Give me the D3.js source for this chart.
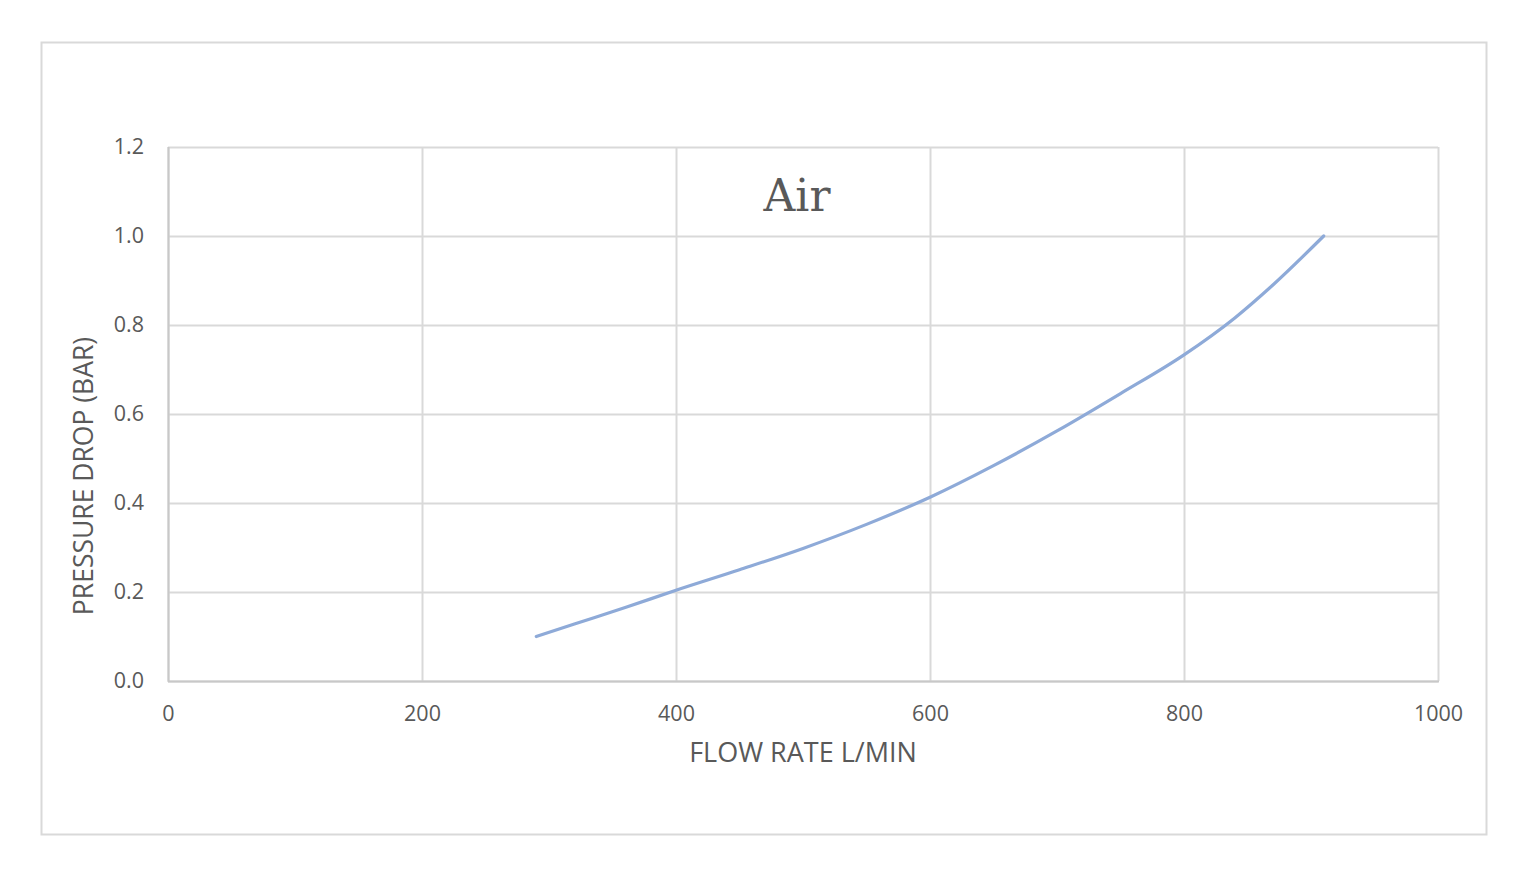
<!DOCTYPE html>
<html><head><meta charset="utf-8">
<script src="https://cdn.jsdelivr.net/npm/d3@7"></script>
<style>body{margin:0;background:#fff;overflow:hidden}</style>
</head><body>
<svg id="c" width="1533" height="874"></svg>
<script>
const flowRate = [290, 320, 360, 400, 450, 500, 550, 600, 650, 700, 750, 800, 840, 870, 910];
const pressureDrop = [0.10, 0.128, 0.165, 0.204, 0.25, 0.298, 0.352, 0.413, 0.484, 0.562, 0.646, 0.733, 0.816, 0.89, 1.0];
const xTicks = [0, 200, 400, 600, 800, 1000];
const yTicks = [0.0, 0.2, 0.4, 0.6, 0.8, 1.0, 1.2];
const title = "Air";
const xTitle = "FLOW RATE L/MIN";
const yTitle = "PRESSURE DROP (BAR)";

const svg = d3.select("#c");
const L = 168, R = 1438, T = 147, B = 681;
const x = d3.scaleLinear().domain([0, 1000]).range([L, R]);
const y = d3.scaleLinear().domain([0, 1.2]).range([B, T]);
const grey = "#d9d9d9", txt = "#595959";
const font = "'Open Sans', 'Noto Sans', sans-serif";

svg.append("rect").attr("x", 41.5).attr("y", 42.5).attr("width", 1445).attr("height", 792)
  .attr("fill", "#fff").attr("stroke", grey).attr("stroke-width", 2);

// gridlines
svg.append("g").selectAll("line").data(yTicks).join("line")
  .attr("x1", L).attr("x2", R).attr("y1", d => Math.round(y(d)) + 0.5).attr("y2", d => Math.round(y(d)) + 0.5)
  .attr("stroke", grey).attr("stroke-width", 2);
svg.append("g").selectAll("line").data(xTicks).join("line")
  .attr("y1", T).attr("y2", B).attr("x1", d => Math.round(x(d)) + 0.5).attr("x2", d => Math.round(x(d)) + 0.5)
  .attr("stroke", grey).attr("stroke-width", 2);
// axes lines
svg.append("line").attr("x1", L + 0.5).attr("x2", L + 0.5).attr("y1", T).attr("y2", B + 1)
  .attr("stroke", "#c8c8c8").attr("stroke-width", 2);
svg.append("line").attr("x1", L).attr("x2", R + 1).attr("y1", B + 0.5).attr("y2", B + 0.5)
  .attr("stroke", "#c8c8c8").attr("stroke-width", 2);

// tick labels via axes
const xa = svg.append("g").attr("transform", `translate(0,${B})`)
  .call(d3.axisBottom(x).tickValues(xTicks).tickSize(0).tickPadding(25).tickFormat(d3.format("d")));
const ya = svg.append("g").attr("transform", `translate(${L},0)`)
  .call(d3.axisLeft(y).tickValues(yTicks).tickSize(0).tickPadding(24).tickFormat(d3.format(".1f")));
[xa, ya].forEach(a => {
  a.select(".domain").remove();
  a.selectAll("text").attr("fill", txt).style("font-family", font).style("font-size", "21.5px");
});

// line
svg.append("path").datum(flowRate.map((f, i) => [f, pressureDrop[i]]))
  .attr("fill", "none").attr("stroke", "#8eaad8").attr("stroke-width", 3.2).attr("stroke-linecap", "round")
  .attr("d", d3.line().x(d => x(d[0])).y(d => y(d[1])).curve(d3.curveMonotoneX));

// titles
svg.append("text").attr("x", 797).attr("y", 211).attr("text-anchor", "middle")
  .attr("fill", txt).style("font-family", "'DejaVu Serif', 'Liberation Serif', serif").style("font-size", "44px")
  .text(title);
svg.append("text").attr("x", 803).attr("y", 762).attr("text-anchor", "middle")
  .attr("fill", txt).style("font-family", font).style("font-size", "27px").text(xTitle);
svg.append("text").attr("transform", "translate(93,476) rotate(-90)").attr("text-anchor", "middle")
  .attr("fill", txt).style("font-family", font).style("font-size", "26.5px").text(yTitle);
</script>
</body></html>
